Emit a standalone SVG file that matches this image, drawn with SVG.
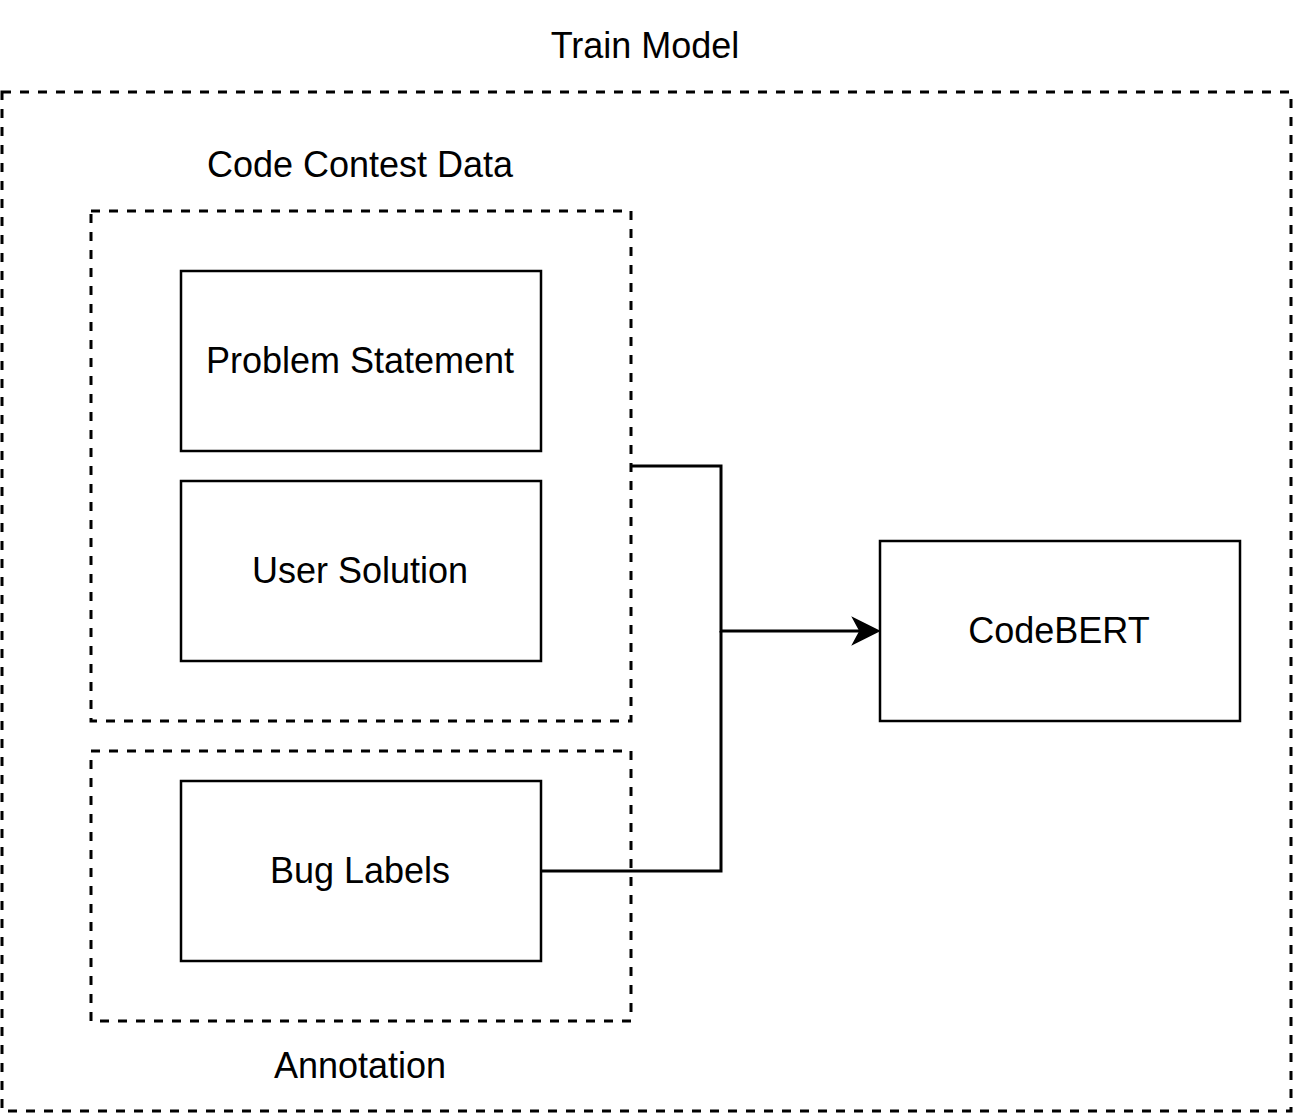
<svg xmlns="http://www.w3.org/2000/svg" width="1293" height="1113" viewBox="0 0 1293 1113">
<style>
.box{fill:#fff;stroke:#000;stroke-width:2.5}
.group{fill:none;stroke:#000;stroke-width:3;stroke-dasharray:9 9}
.t{font-family:"Liberation Sans",Arial,sans-serif;font-size:36px;fill:#000;text-anchor:middle;dominant-baseline:central}
.edge{fill:none;stroke:#000;stroke-width:3}
</style>
<rect width="1293" height="1113" fill="#fff"/>
<g id="train-model">
<rect class="group" x="2" y="92" width="1289" height="1019"/>
<text class="t" x="645" y="45">Train Model</text>
</g>
<g id="code-contest-data">
<rect class="group" x="91" y="211" width="540" height="510"/>
<text class="t" x="360" y="164">Code Contest Data</text>
</g>
<g id="annotation">
<rect class="group" x="91" y="751" width="540" height="270"/>
<text class="t" x="360" y="1065">Annotation</text>
</g>
<g id="problem-statement">
<rect class="box" x="181" y="271" width="360" height="180"/>
<text class="t" x="360" y="360">Problem Statement</text>
</g>
<g id="user-solution">
<rect class="box" x="181" y="481" width="360" height="180"/>
<text class="t" x="360" y="570">User Solution</text>
</g>
<g id="bug-labels">
<rect class="box" x="181" y="781" width="360" height="180"/>
<text class="t" x="360" y="870">Bug Labels</text>
</g>
<g id="codebert">
<rect class="box" x="880" y="541" width="360" height="180"/>
<text class="t" x="1059" y="630">CodeBERT</text>
</g>
<g id="connectors">
<polyline class="edge" points="631,466 721,466 721,631 860,631"/>
<polyline class="edge" points="541,871 721,871 721,631"/>
<path d="M879,631 L853,618 L860,631 L853,644 Z" fill="#000" stroke="#000" stroke-width="1.5"/>
</g>
</svg>
